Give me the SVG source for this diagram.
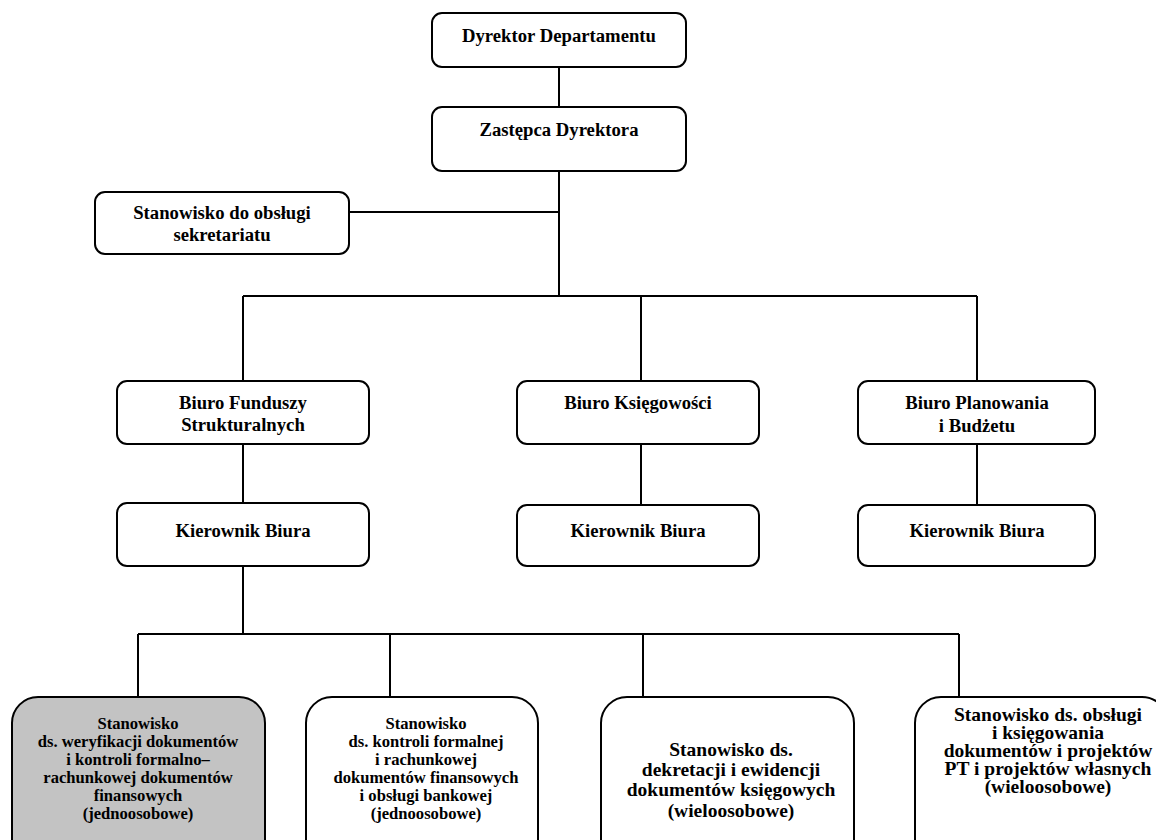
<svg xmlns="http://www.w3.org/2000/svg" width="1156" height="840" viewBox="0 0 1156 840">
<style>
.box{fill:#fff;stroke:#000;stroke-width:2}
.grey{fill:#c3c3c3}
.t{font-family:"Liberation Serif","Times New Roman",serif;font-weight:bold;font-size:18.7px;text-anchor:middle;fill:#000}
.s{font-size:16.6px}
.m{font-size:19.5px}
.c{stroke:#000;stroke-width:2;fill:none}
</style>
<rect width="1156" height="840" fill="#fff"/>
<g id="connectors">
<path class="c" d="M559 67V107M559 171V296M349 212H559M243 296H977M243 296V381M641 296V381M977 296V381M243 444V503M641 444V505M977 444V505M243 566V634M138 634H959M138 634V697M390 634V697M643 634V697M959 634V697"/>
</g>
<g id="n-dyrektor">
<rect class="box" x="432" y="13" width="254" height="54" rx="10"/>
<text class="t" x="559" y="42">Dyrektor Departamentu</text>
</g>
<g id="n-zastepca">
<rect class="box" x="432" y="107" width="254" height="64" rx="10"/>
<text class="t" x="559" y="136">Zastępca Dyrektora</text>
</g>
<g id="n-sekretariat">
<rect class="box" x="95" y="192" width="254" height="62" rx="10"/>
<text class="t" x="222" y="219">Stanowisko do obsługi</text>
<text class="t" x="222" y="241">sekretariatu</text>
</g>
<g id="n-bfs">
<rect class="box" x="117" y="381" width="252" height="63" rx="10"/>
<text class="t" x="243" y="409">Biuro Funduszy</text>
<text class="t" x="243" y="431">Strukturalnych</text>
</g>
<g id="n-bk">
<rect class="box" x="517" y="381" width="242" height="63" rx="10"/>
<text class="t" x="638" y="409">Biuro Księgowości</text>
</g>
<g id="n-bpb">
<rect class="box" x="858" y="381" width="237" height="63" rx="10"/>
<text class="t" x="977" y="409">Biuro Planowania</text>
<text class="t" x="977" y="432">i Budżetu</text>
</g>
<g id="n-kier1">
<rect class="box" x="117" y="503" width="252" height="63" rx="10"/>
<text class="t" x="243" y="537">Kierownik Biura</text>
</g>
<g id="n-kier2">
<rect class="box" x="517" y="505" width="242" height="61" rx="10"/>
<text class="t" x="638" y="537">Kierownik Biura</text>
</g>
<g id="n-kier3">
<rect class="box" x="858" y="505" width="237" height="61" rx="10"/>
<text class="t" x="977" y="537">Kierownik Biura</text>
</g>
<g id="n-s1">
<rect class="box grey" x="12" y="697" width="253" height="170" rx="26"/>
<text class="t s" x="138" y="729">Stanowisko</text>
<text class="t s" x="138" y="747">ds. weryfikacji dokumentów</text>
<text class="t s" x="138" y="765">i kontroli formalno–</text>
<text class="t s" x="138" y="783">rachunkowej dokumentów</text>
<text class="t s" x="138" y="801">finansowych</text>
<text class="t s" x="138" y="819">(jednoosobowe)</text>
</g>
<g id="n-s2">
<rect class="box" x="306" y="697" width="232" height="170" rx="26"/>
<text class="t s" x="426" y="729">Stanowisko</text>
<text class="t s" x="426" y="747">ds. kontroli formalnej</text>
<text class="t s" x="426" y="765">i rachunkowej</text>
<text class="t s" x="426" y="783">dokumentów finansowych</text>
<text class="t s" x="426" y="801">i obsługi bankowej</text>
<text class="t s" x="426" y="819">(jednoosobowe)</text>
</g>
<g id="n-s3">
<rect class="box" x="601" y="697" width="253" height="170" rx="26"/>
<text class="t m" x="731" y="756">Stanowisko ds.</text>
<text class="t m" x="731" y="776">dekretacji  i ewidencji</text>
<text class="t m" x="731" y="796">dokumentów księgowych</text>
<text class="t m" x="731" y="817">(wieloosobowe)</text>
</g>
<g id="n-s4">
<rect class="box" x="915" y="697" width="253" height="170" rx="26"/>
<text class="t m" x="1048" y="721">Stanowisko ds. obsługi</text>
<text class="t m" x="1048" y="739">i księgowania</text>
<text class="t m" x="1048" y="757">dokumentów i projektów</text>
<text class="t m" x="1048" y="775">PT i projektów własnych</text>
<text class="t m" x="1048" y="793">(wieloosobowe)</text>
</g>
</svg>
